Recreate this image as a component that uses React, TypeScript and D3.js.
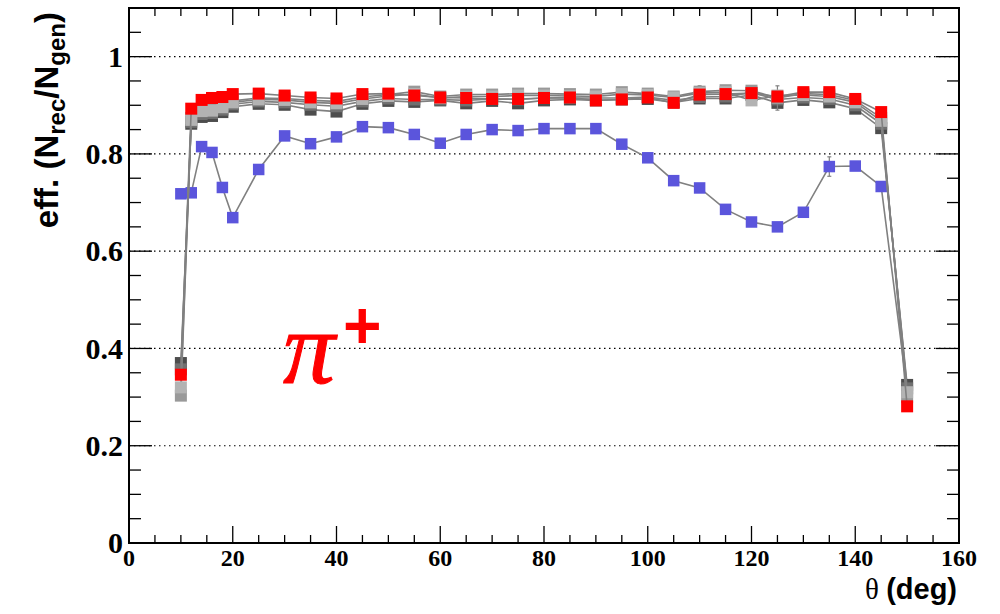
import React from "react";
import * as d3 from "d3";

// Polar angle bins (deg)
const theta = [10, 12, 14, 16, 18, 20, 25, 30, 35, 40, 45, 50, 55, 60, 65, 70, 75, 80, 85, 90, 95, 100, 105, 110, 115, 120, 125, 130, 135, 140, 145, 150];

// Reconstruction efficiency per configuration
const effDark = [0.370, 0.862, 0.876, 0.878, 0.886, 0.897, 0.903, 0.901, 0.891, 0.887, 0.903, 0.909, 0.907, 0.910, 0.904, 0.909, 0.904, 0.910, 0.912, 0.910, 0.912, 0.913, 0.906, 0.914, 0.914, 0.921, 0.905, 0.911, 0.906, 0.893, 0.853, 0.325];
const effMid = [0.357, 0.866, 0.882, 0.884, 0.891, 0.902, 0.908, 0.906, 0.901, 0.898, 0.908, 0.914, 0.912, 0.912, 0.910, 0.913, 0.912, 0.915, 0.915, 0.915, 0.915, 0.917, 0.910, 0.917, 0.918, 0.926, 0.912, 0.916, 0.913, 0.900, 0.862, 0.318];
const effLight = [0.320, 0.870, 0.888, 0.889, 0.896, 0.906, 0.912, 0.911, 0.906, 0.904, 0.913, 0.919, 0.923, 0.915, 0.918, 0.918, 0.920, 0.920, 0.919, 0.918, 0.923, 0.921, 0.916, 0.925, 0.927, 0.910, 0.920, 0.921, 0.918, 0.906, 0.868, 0.310];
const effPale = [0.303, 0.874, 0.892, 0.893, 0.900, 0.909, 0.915, 0.914, 0.910, 0.908, 0.917, 0.922, 0.928, 0.918, 0.922, 0.922, 0.924, 0.924, 0.923, 0.922, 0.927, 0.924, 0.918, 0.928, 0.931, 0.930, 0.915, 0.924, 0.922, 0.910, 0.874, 0.300];
const effBlue = [0.718, 0.720, 0.815, 0.803, 0.731, 0.669, 0.768, 0.837, 0.821, 0.835, 0.856, 0.854, 0.840, 0.822, 0.840, 0.850, 0.848, 0.852, 0.852, 0.852, 0.820, 0.792, 0.745, 0.730, 0.686, 0.660, 0.650, 0.680, 0.774, 0.775, 0.733, 0.315];
const effRed = [0.346, 0.893, 0.911, 0.915, 0.917, 0.923, 0.924, 0.920, 0.916, 0.914, 0.923, 0.924, 0.920, 0.916, 0.915, 0.913, 0.913, 0.915, 0.916, 0.910, 0.912, 0.916, 0.905, 0.922, 0.923, 0.925, 0.918, 0.927, 0.927, 0.913, 0.886, 0.281];

// Statistical errors (only the visible ones are non-zero)
const errBlue = [0, 0, 0, 0, 0, 0, 0, 0, 0, 0, 0, 0, 0, 0, 0, 0, 0, 0, 0, 0, 0, 0, 0, 0, 0, 0, 0, 0, 0.02, 0, 0, 0];
const errPale = [0, 0, 0, 0, 0, 0, 0, 0, 0, 0, 0, 0, 0.006, 0, 0, 0, 0, 0, 0, 0, 0.005, 0, 0, 0.012, 0, 0, 0.025, 0, 0.01, 0.008, 0, 0];

const yTicks = [0, 0.2, 0.4, 0.6, 0.8, 1];
const yTickLabels = ["0", "0.2", "0.4", "0.6", "0.8", "1"];
const xTicks = [0, 20, 40, 60, 80, 100, 120, 140, 160];
const gridLevels = [0.2, 0.4, 0.6, 0.8, 1.0];

// drawing order: blue underneath, then the gray family, red on top
const series = [
  { name: "blue", values: effBlue, errs: errBlue as number[] | null, color: "#5b55dc", size: 11.5 },
  { name: "dark", values: effDark, errs: null as number[] | null, color: "#4d4d4d", size: 12 },
  { name: "mid", values: effMid, errs: null as number[] | null, color: "#707070", size: 12 },
  { name: "pale", values: effPale, errs: errPale as number[] | null, color: "#999999", size: 12 },
  { name: "light", values: effLight, errs: null as number[] | null, color: "#b3b3b3", size: 12 },
  { name: "red", values: effRed, errs: null as number[] | null, color: "#ff0000", size: 12 },
];

const W = 1000;
const H = 614;
const left = 129, right = 959, top = 8, bottom = 543;

export default function App() {
  const x = d3.scaleLinear().domain([0, 160]).range([left, right]);
  const y = d3.scaleLinear().domain([0, 1.1]).range([bottom, top]);
  const line = d3
    .line<number>()
    .x((_, i) => x(theta[i]))
    .y((v) => y(v));

  const xMinor = d3.range(0, 160.001, 5);
  const yMinor = d3.range(0, 1.1001, 0.05);

  const serif = "'Liberation Serif', 'Times New Roman', serif";
  const sans = "'Liberation Sans', Arial, Helvetica, sans-serif";

  return (
    <svg
      width={W}
      height={H}
      style={{ position: "absolute", left: 0, top: 0, background: "#fff" }}
    >
      <rect x={0} y={0} width={W} height={H} fill="#fff" />

      {/* dotted horizontal grid */}
      {gridLevels.map((g) => (
        <line
          key={"g" + g}
          x1={left}
          x2={right}
          y1={y(g)}
          y2={y(g)}
          stroke="#000"
          strokeWidth={1.2}
          strokeDasharray="1.5 3.5"
        />
      ))}

      {/* series: connecting line, error bars, then markers */}
      {series.map((s) => (
        <g key={s.name}>
          <path d={line(s.values) || ""} fill="none" stroke="#808080" strokeWidth={1.6} />
          {s.errs &&
            s.values.map((v, i) =>
              s.errs![i] > 0 ? (
                <g key={"e" + i} stroke="#808080" strokeWidth={1.2}>
                  <line x1={x(theta[i])} x2={x(theta[i])} y1={y(v - s.errs![i])} y2={y(v + s.errs![i])} />
                  <line x1={x(theta[i]) - 2} x2={x(theta[i]) + 2} y1={y(v + s.errs![i])} y2={y(v + s.errs![i])} />
                  <line x1={x(theta[i]) - 2} x2={x(theta[i]) + 2} y1={y(v - s.errs![i])} y2={y(v - s.errs![i])} />
                </g>
              ) : null
            )}
          {s.values.map((v, i) => (
            <rect
              key={"m" + i}
              x={x(theta[i]) - s.size / 2}
              y={y(v) - s.size / 2}
              width={s.size}
              height={s.size}
              fill={s.color}
            />
          ))}
        </g>
      ))}

      {/* frame ticks: bottom and top */}
      {xMinor.map((t) => {
        const major = Math.abs(t % 20) < 1e-6;
        const len = major ? 17 : 8;
        return (
          <g key={"xt" + t} stroke="#000" strokeWidth={1.3}>
            <line x1={x(t)} x2={x(t)} y1={bottom} y2={bottom - len} />
            <line x1={x(t)} x2={x(t)} y1={top} y2={top + len} />
          </g>
        );
      })}
      {/* frame ticks: left and right */}
      {yMinor.map((t) => {
        const major = Math.abs(t / 0.2 - Math.round(t / 0.2)) < 1e-6;
        const len = major ? 23 : 12;
        return (
          <g key={"yt" + t.toFixed(2)} stroke="#000" strokeWidth={1.3}>
            <line x1={left} x2={left + len} y1={y(t)} y2={y(t)} />
            <line x1={right} x2={right - len} y1={y(t)} y2={y(t)} />
          </g>
        );
      })}

      {/* frame */}
      <rect x={left} y={top} width={right - left} height={bottom - top} fill="none" stroke="#000" strokeWidth={2} />

      {/* y tick labels */}
      {yTicks.map((t, i) => (
        <text
          key={"yl" + t}
          x={left - 6}
          y={y(t)}
          dy="0.34em"
          textAnchor="end"
          fontFamily={serif}
          fontWeight="bold"
          fontSize={30}
          fill="#000"
        >
          {yTickLabels[i]}
        </text>
      ))}

      {/* x tick labels */}
      {xTicks.map((t) => (
        <text
          key={"xl" + t}
          x={x(t)}
          y={566}
          textAnchor="middle"
          fontFamily={serif}
          fontWeight="bold"
          fontSize={24}
          fill="#000"
        >
          {t}
        </text>
      ))}

      {/* axis titles */}
      <text
        transform="translate(58,12) rotate(-90)"
        textAnchor="end"
        fontFamily={sans}
        fontWeight="bold"
        fontSize={33}
        fill="#000"
      >
        eff. (N
        <tspan fontSize={24} dy={7}>rec</tspan>
        <tspan dy={-7}>/N</tspan>
        <tspan fontSize={24} dy={7}>gen</tspan>
        <tspan dy={-7}>)</tspan>
      </text>

      <text x={957} y={599} textAnchor="end" fontSize={29} fill="#000">
        <tspan fontFamily={serif}>θ </tspan>
        <tspan fontFamily={sans} fontWeight="bold">(deg)</tspan>
      </text>

      {/* particle label */}
      <text x={283} y={383} fontFamily={serif} fontStyle="italic" fontSize={104} fill="#ff0000" stroke="#ff0000" strokeWidth={1}>
        π
      </text>
      <text x={343} y={348} fontFamily={sans} fontWeight="bold" fontSize={66} fill="#ff0000">
        +
      </text>
    </svg>
  );
}
